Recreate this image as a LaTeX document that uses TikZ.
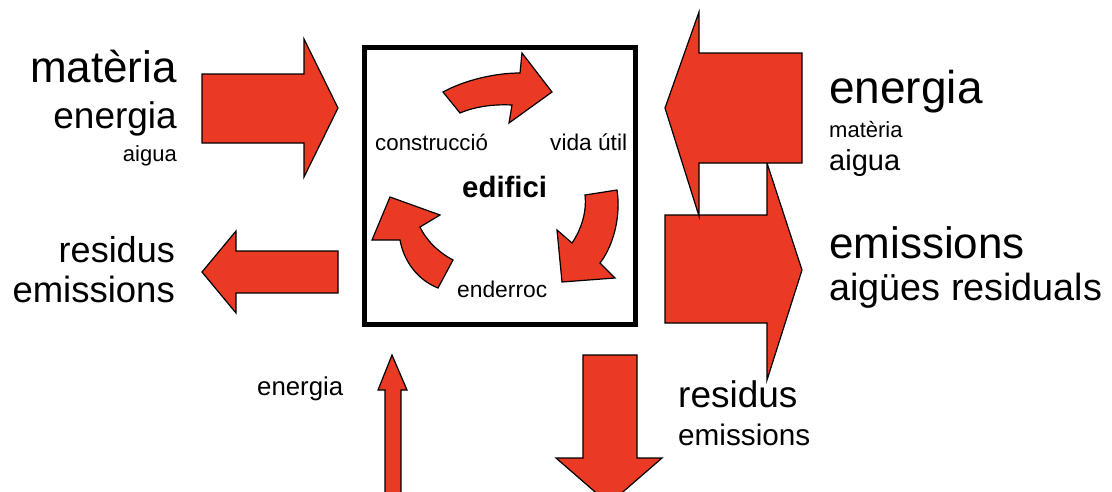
\documentclass[tikz,border=0pt]{standalone}
\usepackage{fontspec}
\setmainfont{Liberation Sans}
\definecolor{arrred}{RGB}{234,58,36}
\begin{document}
\begin{tikzpicture}[x=1pt,y=-1pt,
  arr/.style={fill=arrred,draw=black,line width=1.2pt,line join=miter},
  lbl/.style={inner sep=0pt,text=black},
  fs/.style={font=\fontsize{#1}{#1}\selectfont}]
\useasboundingbox (0,0) rectangle (1112,491);
\clip (0,0) rectangle (1112,491);
% central box
\draw[line width=5pt] (364,47.5) rectangle (635.5,324.5);
% cycle arrows
\draw[arr] (443,92) .. controls (465,80) and (495,73) .. (520,73) -- (522,53) -- (552,92) -- (509,123) -- (512,105) .. controls (492,104) and (474,107) .. (460,113) -- cycle;
\draw[arr] (585,195) -- (617,190) .. controls (621,215) and (614,245) .. (600,263) -- (615,278) -- (562,282) -- (557,230) -- (572,243) .. controls (581,230) and (587,212) .. (585,195) -- cycle;
\draw[arr] (453,260) -- (438,288) .. controls (418,280) and (404,262) .. (400,240) -- (372,240) -- (390,197) -- (440,215) -- (420,227) .. controls (426,240) and (438,252) .. (453,260) -- cycle;
% left arrows
\draw[arr] (202,74) -- (304,74) -- (304,39) -- (338,108) -- (304,177) -- (304,143) -- (202,143) -- cycle;
\draw[arr] (338,251) -- (236,251) -- (236,231) -- (202,272) -- (236,313) -- (236,293) -- (338,293) -- cycle;
% right arrows
\draw[arr] (665,215) -- (767,215) -- (767,163) -- (802,270) -- (767,380) -- (767,323) -- (665,323) -- cycle;
\draw[arr] (665,108) -- (699,12) -- (699,53) -- (802,53) -- (802,163) -- (699,163) -- (699,216) -- cycle;
% bottom arrows
\draw[arr] (385,500) -- (385,390) -- (378,390) -- (392,355) -- (407,390) -- (401,390) -- (401,500) -- cycle;
\draw[arr] (583,355) -- (637,355) -- (637,458) -- (662,458) -- (609,504) -- (556,458) -- (583,458) -- cycle;
% texts inside box
\node[lbl,fs=22.3,anchor=base west] (constr) at (375,150) {construcció};
\node[lbl,fs=22.7,anchor=base west] (vida) at (550,150) {vida útil};
\node[lbl,fs=29.4,anchor=base west,font=\fontsize{29.4}{29.4}\selectfont\bfseries] (edif) at (462,197) {edifici};
\node[lbl,fs=22.8,anchor=base west] (ender) at (457,297) {enderroc};
% left texts
\node[lbl,fs=44,anchor=base east] (lmat) at (177,82) {matèria};
\node[lbl,fs=37,anchor=base east] (lene) at (177,128) {energia};
\node[lbl,fs=22,anchor=base east] (laig) at (177,161) {aigua};
\node[lbl,fs=36,anchor=base east] (lres) at (175,262) {residus};
\node[lbl,fs=36.5,anchor=base east] (lemi) at (175,302) {emissions};
% right texts
\node[lbl,fs=46,anchor=base west] (rene) at (829,103) {energia};
\node[lbl,fs=22,anchor=base west] (rmat) at (829,137) {matèria};
\node[lbl,fs=29,anchor=base west] (raig) at (829,170) {aigua};
\node[lbl,fs=44,anchor=base west] (remi) at (829,258) {emissions};
\node[lbl,fs=37.8,anchor=base west] (rres) at (829,300) {aigües residuals};
% bottom texts
\node[lbl,fs=37,anchor=base west] (bres) at (678,407) {residus};
\node[lbl,fs=29.7,anchor=base west] (bemi) at (678,445) {emissions};
\node[lbl,fs=25.8,anchor=base west] (bene) at (257,395) {energia};
\end{tikzpicture}
\end{document}
